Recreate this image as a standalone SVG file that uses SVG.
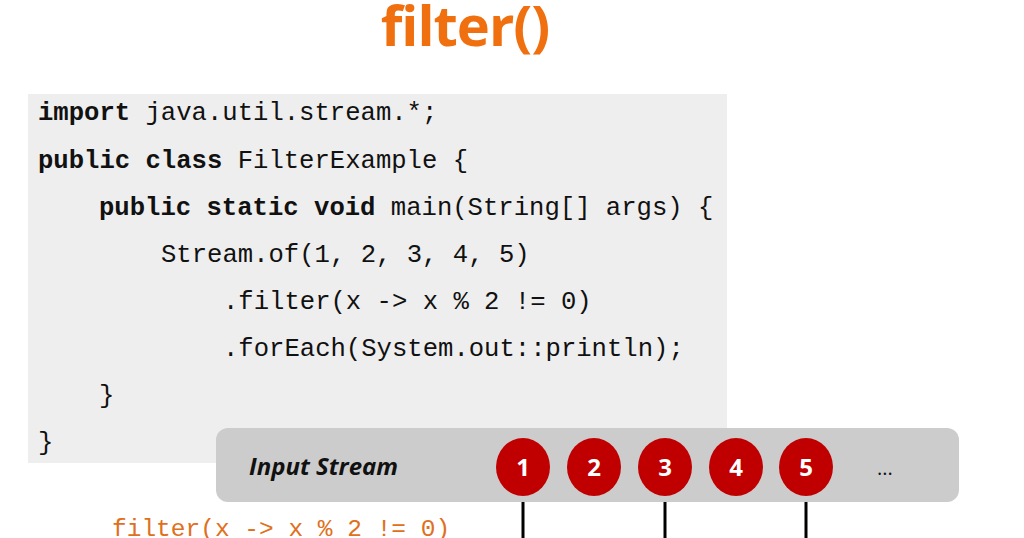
<svg xmlns="http://www.w3.org/2000/svg" width="1024" height="538" viewBox="0 0 1024 538">
<style>
.code{font-family:"Liberation Mono","DejaVu Sans Mono",monospace;font-size:25.6px;fill:#111}
.kw{font-weight:bold}
.num{font-family:"Open Sans","Noto Sans",sans-serif;font-weight:bold;font-size:24px;fill:#fff;text-anchor:middle}
.ball{fill:#c00000}
.conn{stroke:#000;stroke-width:3}
</style>
<rect width="1024" height="538" fill="#fff"/>
<text x="465" y="46" text-anchor="middle" font-family="Open Sans,Noto Sans,sans-serif" font-weight="bold" font-size="56" fill="#f07010" letter-spacing="-1">filter()</text>
<g id="code">
<rect x="28" y="94" width="699" height="369" fill="#eeeeee"/>
<text class="code" x="38" y="120"><tspan class="kw">import</tspan> java.util.stream.*;</text>
<text class="code" x="38" y="168"><tspan class="kw">public class</tspan> FilterExample {</text>
<text class="code" x="99" y="215"><tspan class="kw">public static void</tspan> main(String[] args) {</text>
<text class="code" x="161" y="262">Stream.of(1, 2, 3, 4, 5)</text>
<text class="code" x="223" y="309">.filter(x -&gt; x % 2 != 0)</text>
<text class="code" x="223" y="356">.forEach(System.out::println);</text>
<text class="code" x="99" y="403">}</text>
<text class="code" x="38" y="450">}</text>
</g>
<g id="connectors">
<line class="conn" x1="523" y1="490" x2="523" y2="538"/>
<line class="conn" x1="665" y1="490" x2="665" y2="538"/>
<line class="conn" x1="806" y1="490" x2="806" y2="538"/>
</g>
<g id="stream">
<rect x="216" y="428" width="743" height="74" rx="12" fill="#cccccc"/>
<text x="249" y="475" font-family="Open Sans,Noto Sans,sans-serif" font-weight="bold" font-style="italic" font-size="24" fill="#111">Input Stream</text>
<text x="885" y="475" font-family="Open Sans,Noto Sans,sans-serif" font-size="20" fill="#111" text-anchor="middle">...</text>
</g>
<g id="n1"><ellipse class="ball" cx="523" cy="467" rx="27" ry="29"/><text class="num" x="523" y="476">1</text></g>
<g id="n2"><ellipse class="ball" cx="594" cy="467" rx="27" ry="29"/><text class="num" x="594" y="476">2</text></g>
<g id="n3"><ellipse class="ball" cx="665" cy="467" rx="27" ry="29"/><text class="num" x="665" y="476">3</text></g>
<g id="n4"><ellipse class="ball" cx="736" cy="467" rx="27" ry="29"/><text class="num" x="736" y="476">4</text></g>
<g id="n5"><ellipse class="ball" cx="806" cy="467" rx="27" ry="29"/><text class="num" x="806" y="476">5</text></g>
<text x="112" y="536" font-family="Liberation Mono,DejaVu Sans Mono,monospace" font-size="24.5" fill="#e07020">filter(x -&gt; x % 2 != 0)</text>
</svg>
